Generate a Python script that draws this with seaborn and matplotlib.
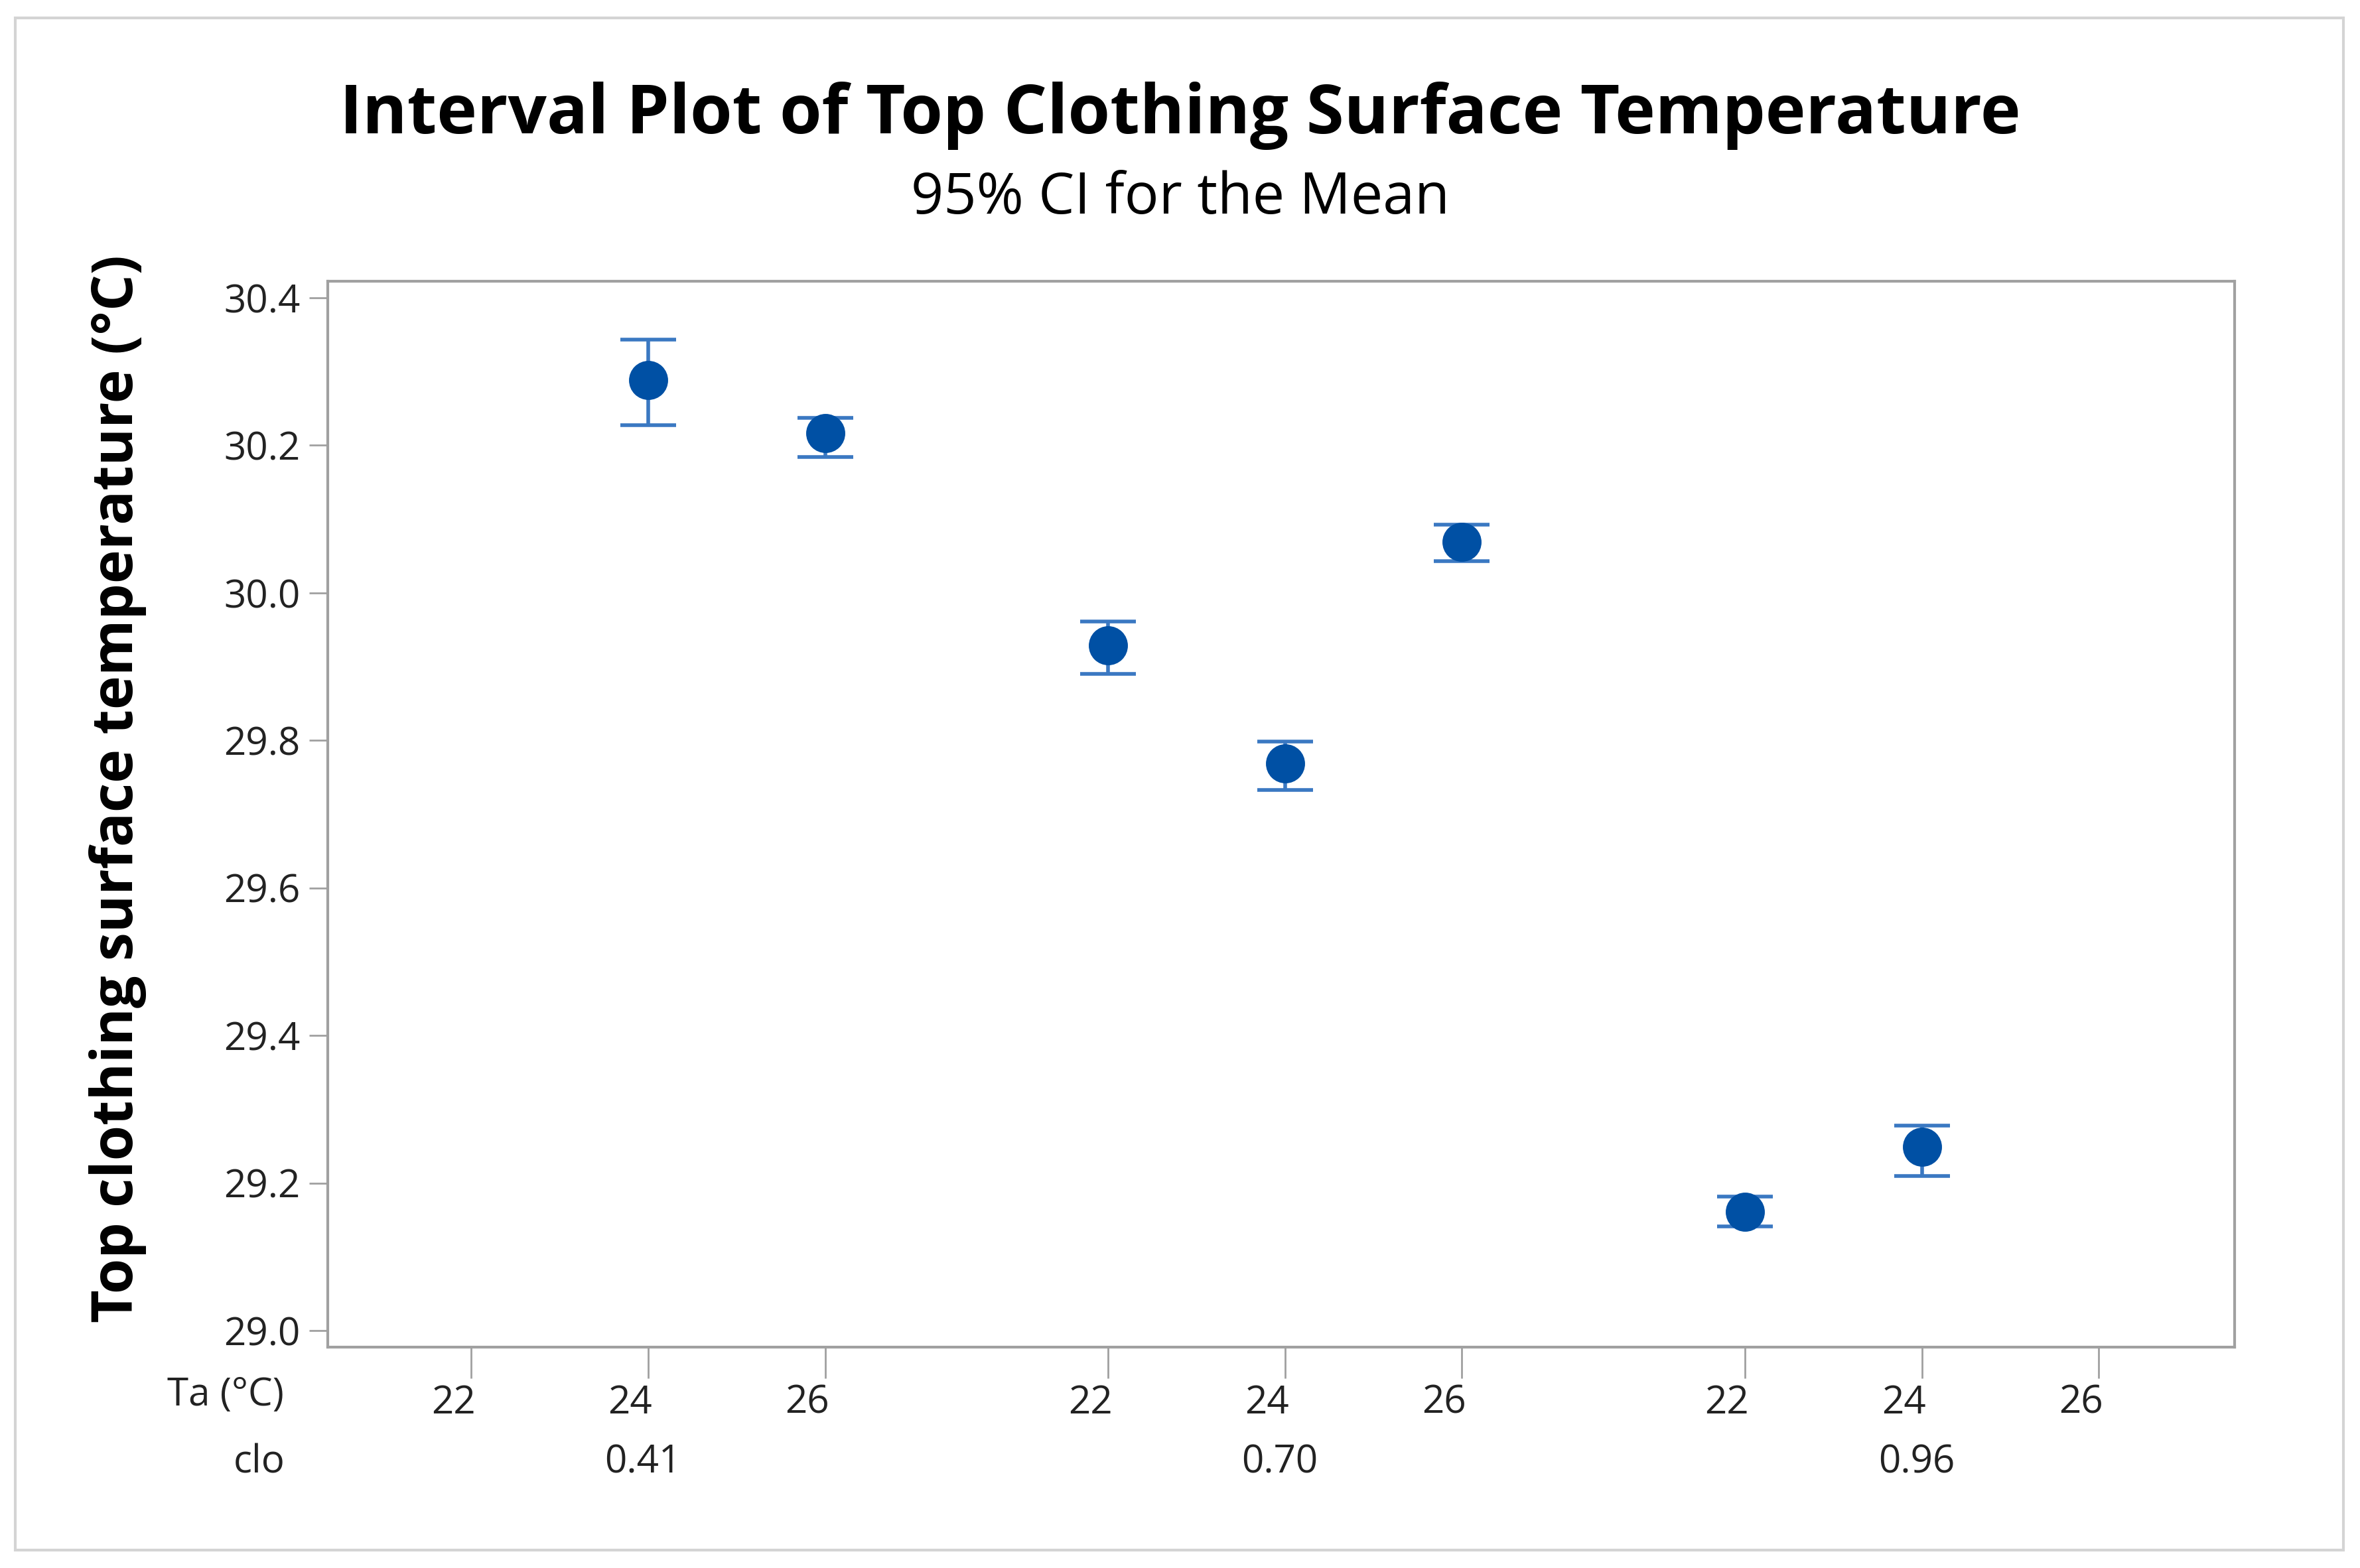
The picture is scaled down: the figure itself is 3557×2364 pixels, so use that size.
import numpy as np
import pandas as pd
import matplotlib
matplotlib.use("Agg")
import matplotlib.pyplot as plt
import matplotlib.transforms as mtransforms
from matplotlib.patches import Rectangle
import seaborn as sns

# Datos (media e IC 95%)
clo_niveles = ['0.41', '0.70', '0.96']
ta_niveles = [22, 24, 26]
clo = ['0.41', '0.41', '0.70', '0.70', '0.70', '0.96', '0.96']
ta = [24, 26, 22, 24, 26, 22, 24]
media = [30.288, 30.216, 29.929, 29.769, 30.069, 29.161, 29.249]
ic_inf = [30.227, 30.184, 29.890, 29.733, 30.043, 29.141, 29.210]
ic_sup = [30.343, 30.237, 29.961, 29.798, 30.092, 29.182, 29.278]
y_ticks = [29.0, 29.2, 29.4, 29.6, 29.8, 30.0, 30.2, 30.4]

sns.set_theme(style="white")
plt.rcParams['font.family'] = ['Open Sans', 'DejaVu Sans']

AZUL = '#0050A4'
AZUL_LINEA = '#3A78C2'
GRIS = '#A0A0A0'
TEXTO = '#222222'
GAP = 3.6  # separacion entre grupos de clo


def posicion(c, t):
    return clo_niveles.index(c) * GAP + ta_niveles.index(t)


df = pd.DataFrame({'clo': clo, 'Ta': ta, 'media': media,
                   'inf': ic_inf, 'sup': ic_sup})
df['x'] = [posicion(c, t) for c, t in zip(df['clo'], df['Ta'])]

fig = plt.figure(figsize=(35.57, 23.64), dpi=100)
ax = fig.add_axes([0.139, 0.141, 0.808, 0.6795])

# intervalos de confianza
ax.errorbar(df['x'], df['media'],
            yerr=[df['media'] - df['inf'], df['sup'] - df['media']],
            fmt='none', ecolor=AZUL_LINEA, elinewidth=4, capsize=30,
            capthick=4, zorder=2)
sns.scatterplot(data=df, x='x', y='media', ax=ax, color=AZUL, s=1800,
                edgecolor=AZUL, linewidth=0, zorder=3, legend=False)

ax.set_xlim(-0.81, 9.97)
ax.set_ylim(28.978, 30.422)
ax.set_yticks(y_ticks)
ax.set_yticklabels([f'{v:.1f}' for v in y_ticks])

xt = [g * GAP + i for g in range(len(clo_niveles)) for i in range(len(ta_niveles))]
ax.set_xticks(xt)
ax.set_xticklabels([str(t) for _ in clo_niveles for t in ta_niveles])
ax.set_xlabel('')
ax.set_ylabel('')

ax.tick_params(axis='both', which='both', length=20, width=2, color=GRIS,
               labelsize=42, labelcolor=TEXTO, bottom=True, left=True)
ax.tick_params(axis='x', length=34, pad=6)
ax.tick_params(axis='y', pad=10)
desplaza = mtransforms.ScaledTranslation(-0.27, 0, fig.dpi_scale_trans)
for lab in ax.get_xticklabels():
    lab.set_transform(lab.get_transform() + desplaza)

for sp in ax.spines.values():
    sp.set_color(GRIS)
    sp.set_linewidth(3)

# niveles de clo bajo los ejes
trans = mtransforms.blended_transform_factory(ax.transData, fig.transFigure)
for g, c in enumerate(clo_niveles):
    ax.text(g * GAP + 1 - 0.03, 0.0672, c, transform=trans, ha='center',
            va='center', fontsize=42, color=TEXTO)
fig.text(0.0957, 0.110, 'Ta (°C)', ha='center', va='center', fontsize=42,
         color=TEXTO)
fig.text(0.1097, 0.0672, 'clo', ha='center', va='center', fontsize=42,
         color=TEXTO)

fig.text(0.5, 0.926, 'Interval Plot of Top Clothing Surface Temperature',
         ha='center', va='center', fontsize=74, fontweight='bold',
         color='black')
fig.text(0.5, 0.873, '95% CI for the Mean', ha='center', va='center',
         fontsize=62, color='black')
fig.text(0.050, 0.497, 'Top clothing surface temperature (°C)', rotation=90,
         ha='center', va='center', fontsize=62, fontweight='bold',
         color='black')

# marco exterior
fig.patches.append(Rectangle((10 / 1568, 1 - 1030 / 1042),
                             1547 / 1568, 1018 / 1042,
                             transform=fig.transFigure, fill=False,
                             edgecolor='#D4D4D4', linewidth=3))

fig.savefig('out.png', dpi=100)
